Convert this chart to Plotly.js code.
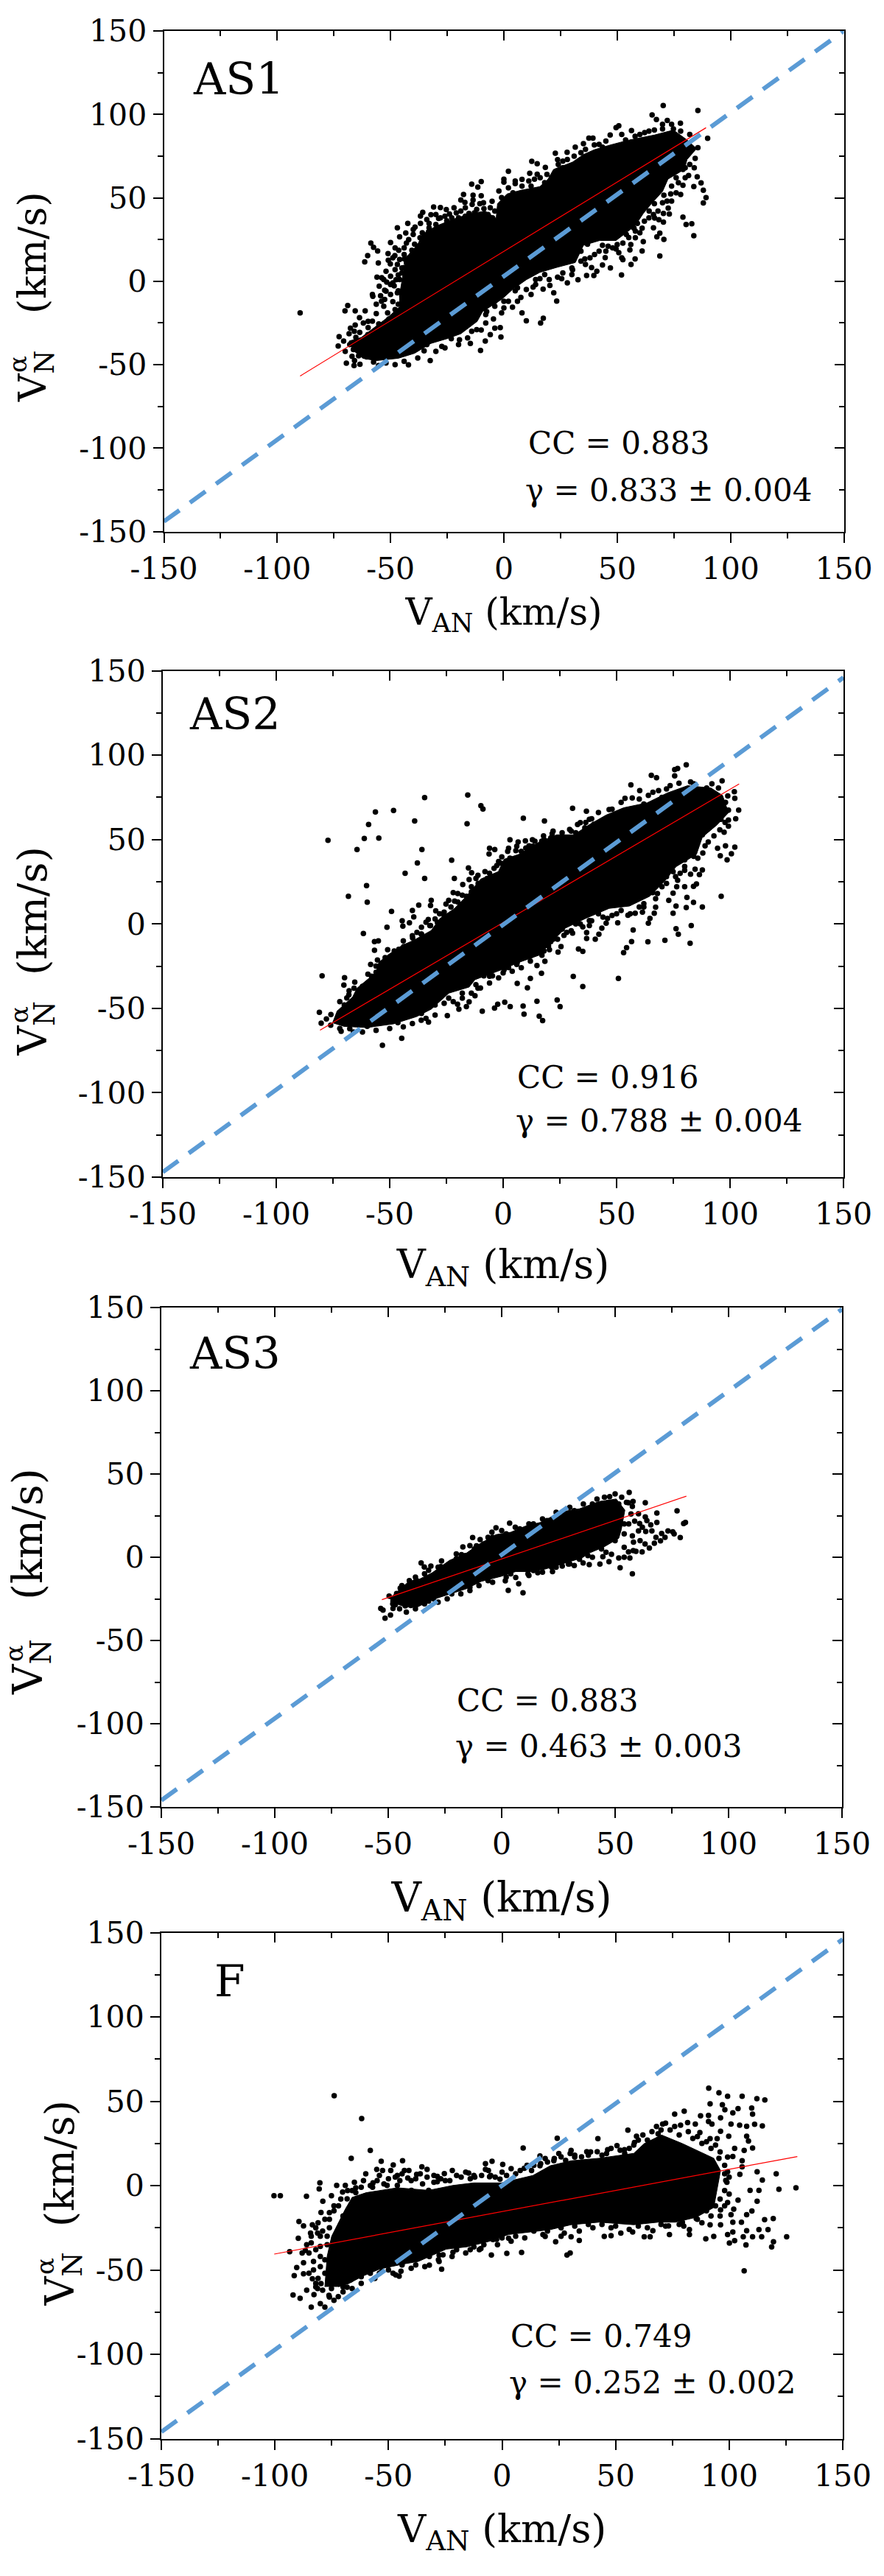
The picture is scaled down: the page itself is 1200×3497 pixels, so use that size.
<!DOCTYPE html>
<html><head><meta charset="utf-8">
<script src="https://cdn.plot.ly/plotly-3.0.1.min.js"></script>
<style>html,body{margin:0;padding:0;background:#fff}</style></head>
<body><div id="chart" style="width:1200px;height:3497px"></div>
<script>
// Values: [V_AN, V_N^alpha] in km/s
const tickVals=[-150,-100,-50,0,50,100,150];
const tickText=['-150','-100','-50','0','50','100','150'];
const panelNames=['AS1','AS2','AS3','F'];
const ccText=['CC = 0.883','CC = 0.916','CC = 0.883','CC = 0.749'];
const gammaText=['γ = 0.833 ± 0.004','γ = 0.788 ± 0.004','γ = 0.463 ± 0.003','γ = 0.252 ± 0.002'];
const fitAS1=[[-89.9,-56.8],[89.2,92]];
const fitAS2=[[-80.7,-62.9],[104,82.9]];
const fitAS3=[[-52.8,-25.5],[81.4,36.7]];
const fitF=[[-100.3,-40.6],[130,17.2]];
const unityAS1=[[-150,-144],[150,150]];
const unityAS2=[[-150,-147],[150,146]];
const unityAS3=[[-150,-146],[150,149]];
const unityF=[[-150,-146],[150,146]];
// Dense core of each cloud (points merge into solid black there)
const coreAS1=[[-66.5,-41.7],[-68.3,-35.9],[-62.9,-33.7],[-56.3,-27],[-50.8,-21.2],[-46,-15.3],[-46,-8],[-45,0],[-44,8],[-42,16],[-38,22],[-36,28],[-30,33],[-21.4,37.6],[-14.2,40.6],[-8.2,42],[-3.4,37.6],[-2.8,46.5],[1.4,52.3],[7.5,54.5],[15.9,56.7],[19.5,61.2],[21.9,67],[30.3,71.4],[35.1,75.9],[39.9,78.8],[47.1,81.7],[55.5,84.7],[66.4,87.6],[74.8,90.6],[80.8,84.7],[85,79.5],[80.8,72.9],[79.6,67],[72.4,61.2],[70,53.8],[65.1,46.5],[61.5,40.6],[57.9,33.2],[49.5,24.4],[42.3,24.4],[35.1,21.5],[31.5,11.2],[23.1,8.2],[15.9,5.3],[9.9,0.9],[3.8,-5],[-1,-10.9],[-9.4,-18.2],[-11.8,-24.1],[-19,-31.5],[-25,-34.4],[-32.2,-37.3],[-39.4,-43.2],[-46.6,-46.2],[-56.3,-47.6],[-62.3,-46.2]];
const coreAS2=[[-73.4,-51.9],[-66.3,-43.2],[-64.4,-38.1],[-56,-28.7],[-54.8,-22.8],[-50.9,-18.5],[-44.5,-12.7],[-39.4,-9.7],[-31.7,-3.9],[-27.8,3.3],[-21.4,9.2],[-16.2,16.4],[-9.8,26.6],[-2.1,31],[0.4,38.3],[6.9,41.2],[15.9,48.5],[23.6,52.8],[31.3,52.8],[37.7,58.6],[45.4,64.5],[53.1,68.8],[63.4,71.7],[72.4,77.6],[81.3,81.9],[91.6,80.5],[96.7,76.1],[99.3,65.9],[94.2,58.6],[87.8,51.4],[85.2,41.2],[76.2,33.9],[71.1,25.2],[64.6,16.4],[55.7,10.6],[46.7,9.2],[36.4,3.3],[27.4,-2.5],[21,-11.2],[15.9,-18.5],[6.9,-22.8],[-0.8,-27.2],[-12.4,-33],[-15,-37.4],[-23.9,-41],[-31.7,-50.5],[-38.1,-54.9],[-48.3,-59.2],[-59.9,-61.4],[-70.2,-60.7],[-75.3,-58.5]];
const coreAS3=[[-49.6,-24.8],[-46.9,-21.8],[-40.9,-14.5],[-36,-13],[-30.6,-9.3],[-23,-1.9],[-15.5,2.5],[-10.1,7.7],[-2.5,13.6],[4,15],[10.5,18.7],[17,20.9],[22.4,24.6],[27.8,27.6],[34.3,29.1],[43,33.5],[50.5,35],[54.3,28.3],[52.7,16.5],[51.6,11.4],[45.1,6.2],[38.6,2.5],[35.4,-0.4],[27.8,-3.4],[19.2,-7.1],[12.7,-8.6],[6.2,-8.6],[-0.3,-11.5],[-9,-14.5],[-15.5,-18.9],[-24.1,-22.6],[-30.6,-25.5],[-37.1,-29.9],[-42.5,-29.9],[-46.9,-27.7]];
const coreF=[[-78,-60],[-77,-42],[-75,-30],[-72,-22],[-69,-14],[-66,-7],[-59.8,-4.2],[-46.1,-1.3],[-32.3,-2.8],[-21.6,0.1],[-12.4,1.6],[-0.2,1.6],[13.6,6],[21.3,11.8],[30.4,14.7],[42.7,16.2],[58,19.1],[62.6,24.9],[70.2,30],[79.4,24.9],[93.2,16.2],[96.2,8.9],[94.7,-2.8],[93.2,-13],[85.5,-18.8],[76.3,-21.7],[68.7,-21.7],[58,-23.2],[42.7,-21.7],[30.4,-23.2],[21.3,-26.1],[12.1,-27.5],[2.9,-29],[-6.3,-33.3],[-15.5,-36.3],[-24.6,-37.7],[-36.9,-45],[-43,-46.4],[-53.7,-49.4],[-61.4,-53.7],[-67.5,-58.1],[-72,-60]];
// Individually visible points around each core
const ptsAS1=[[-89.9,-19],[70.3,105.3],[85.6,102.3],[65.4,99.7],[67.3,96.9],[72.1,96.4],[77.9,94.7],[89.9,85.6],[50.7,93.2],[49.5,92],[56.3,90.3],[46.9,87.6],[37.5,85.8],[39.3,85.8],[35.1,82.5],[31.5,80.3],[39.9,81.7],[43.5,80.3],[27.9,77.3],[22.7,76.7],[23.7,72.9],[12.3,71.9],[14.7,70.4],[18.3,68.2],[2,65.9],[11.4,64.7],[14.7,64.1],[13.5,61.2],[0,61.2],[0,59.4],[5,58.5],[-14.2,58.2],[-10,59.7],[-11.5,56.4],[-2.2,54.1],[2,56],[-17.8,52],[-13.6,51.6],[-10,51.2],[-19,48.7],[-17.2,47.2],[-13.6,48.7],[-5.2,47.9],[-1,50.1],[-10.6,46.5],[-8.8,43.5],[-31,44.5],[-28,44.2],[-25.4,42.9],[-35.8,41.3],[-36.8,39.1],[-32.2,39.8],[-19,42],[-15.4,40.6],[-24,40.3],[-28.8,37.6],[-42.4,34.7],[-33,34.7],[-25.2,36.2],[-36.8,34.7],[-39.2,32.5],[-47,32],[-43.3,28.9],[-33.3,29.5],[-26.7,31.8],[-34.6,26.6],[-46,26.6],[-35.8,24.4],[-58.7,22.9],[-50,23.2],[-43,22.9],[-57.5,20.3],[-55.7,18.1],[-39.4,22.2],[-46.4,18.5],[-40.6,18.5],[-51.1,16.6],[-48.1,15.3],[-60.1,15.3],[-35.8,15.6],[-43.9,13.4],[-61.4,11.6],[-55.4,10.9],[-51,12.6],[-50.1,10.4],[-41.8,11.2],[-44.1,8.2],[-39.4,6.8],[-40.6,4.6],[-46.6,3.8],[-56,2.4],[-53.9,2.1],[-51.7,-0.6],[-47.6,0.9],[-48.4,-2.8],[-43,-2.1],[-40,-1.3],[-46.6,-5.7],[-42.4,-7.2],[-52.6,-5.4],[-54.4,-8.7],[-57.8,-9.1],[-52.6,-10.9],[-49,-12.3],[-56.3,-13.8],[-41.2,-11.6],[-46.6,-13.8],[-68.9,-14.6],[-70.1,-17.8],[-65.6,-17.8],[-61.2,-17.8],[-56.3,-19.4],[-51.3,-19],[-63.7,-21.9],[-50.7,-22.6],[-59.9,-24.1],[-55.2,-25.6],[-65.6,-26.3],[-67.7,-28.1],[-59.9,-27.8],[-72.7,-33.2],[-68.3,-31.5],[-63.6,-30.7],[-70.7,-35.9],[-65.3,-33.7],[-73.1,-38.8],[-66.4,-41],[-64.1,-44.7],[-65.9,-47.6],[-69.5,-49.1],[-66.1,-50.6],[-63.5,-49.8],[-57.5,-48.4],[-60.5,-45.4],[-55.3,-50.6],[-42.1,-50.1],[-32.5,-47.6],[-35.2,-41.7],[-27.4,-39.1],[-10.3,-41.5],[-8.2,-35.9],[-14.8,-37.3],[-19.6,-35.1],[-23.2,-34.4],[-1.3,-33.4],[-4,-28.2],[-10,-29.3],[-14.2,-30],[-16.6,-24.8],[9.9,-23.7],[17.4,-22.2],[16.2,-25.1],[23.3,-11.9],[-1.6,-27.8],[-4.6,-22.6],[-7.6,-18.2],[-1,-19],[3.8,-15.6],[7.5,-9.7],[5,-5.7],[9.9,-5],[12.9,-3.5],[17.3,-4.7],[20.3,-2.5],[15.9,1.6],[23.7,2.4],[25.5,1.6],[32.7,0.9],[36.5,3.4],[39.7,3.4],[51.9,3.8],[30.3,6.8],[38.7,8.2],[43.5,9.7],[56.1,10],[68.8,15.1],[35.7,13.4],[44.7,14.1],[52.5,12.9],[57.9,13.4],[61,18.1],[55.6,18.8],[50.7,17.1],[49.5,19.3],[36.9,22.2],[43.5,21.5],[52.5,22.9],[61.5,23.7],[67.5,26.6],[70.6,25.1],[83.8,27.3],[68.8,28.8],[57.4,31.8],[61,31.8],[55.1,26.2],[53.1,30],[70.4,35.4],[66.5,37.9],[68.4,36.9],[80.4,34],[82.9,34.4],[79,38.4],[73,40.3],[70.4,40.6],[72.5,43.8],[64.1,42],[58.9,34.7],[88,46.9],[89.2,50.1],[88,54.5],[87,58.9],[83.8,56.7],[85.3,62.6],[79,57.5],[81.5,63.4],[73.6,52.3],[70.6,51.6],[66.4,46.5],[79,67],[84.4,73.6],[85.6,80],[74.8,91.3],[70,91.3],[62.1,89.1],[66.4,90.6],[53.7,84.7],[57.9,86.9],[-58,-8],[-55,-3],[-50,3],[-48,7],[-45,5],[-42,14],[-38,16],[-44,20],[-37,26],[-40,28],[-33,32],[-30,30],[-36,12],[-38,2],[-42,-4],[-45,-9],[-50,-8],[-48,-17],[-53,-15],[-58,-24],[-62,-25],[-60,-32],[-66,-30],[-68,-38],[-62,-37],[-70,-42],[-67,-45],[-62,-44],[-38,8],[-34,20],[-28,38],[-24,35],[-20,38],[-17,44],[-12,43],[-9,47],[-6,44],[-4,42],[-14,46],[-22,44],[-30,40],[-26,33],[5,60],[8,57],[11,60],[16,62],[19,64],[24,70],[28,73],[26,68],[34,77],[42,82],[45,84],[52,88],[60,88],[64,90],[70,94],[74,94],[78,90],[82,88],[82,70],[84,68],[80,62],[77,59],[76,53],[72,48],[68,42],[64,38],[60,29],[56,22],[48,20],[45,18],[40,16],[34,18],[36,10],[30,4],[26,5],[20,1],[14,-2],[12,-8],[6,-12],[2,-12],[0,-16],[-4,-15],[-8,-25],[-12,-29],[-16,-34],[-20,-38],[-26,-40],[-30,-42],[-38,-46],[-44,-48],[-48,-50],[-52,-49],[74,48],[78,52],[66,32],[58,26],[52,14],[47,8],[41,6],[28,-1],[22,-7],[8,-19],[-6,-32]];
const ptsAS2=[[80.7,94.3],[75.6,91.4],[76.9,92.1],[75.6,87.7],[65.3,88],[67.6,86.6],[96.5,84.8],[56.3,82.4],[60.2,79],[68.5,79],[77.5,83.4],[82.6,84.1],[73.6,81.9],[89.7,80.5],[94.9,80.5],[101.9,78.3],[53.7,74.4],[56.9,74.6],[64,76.1],[102.1,74.4],[99,75.8],[30.6,68.5],[36.7,66.8],[46.7,67.7],[39,62.3],[103.8,67.4],[99.3,67.4],[102.5,62.3],[99.3,61.5],[97.8,60.1],[36.4,60.1],[32.8,58.9],[29.3,56],[99.3,57.9],[95.5,55.7],[97.4,54.3],[92.9,52.1],[87.8,52.8],[90.4,48.5],[89,46.3],[98,46.3],[102.1,45.5],[94.5,44.8],[100.6,41.6],[95.7,40.4],[98.7,38],[85.8,39],[87.8,32],[84.6,32.4],[80,31.7],[86.5,29.2],[82.6,29.5],[74.9,31],[76.9,25.9],[85.2,23.7],[83.9,22.3],[76.5,22],[80,22],[96.1,16.4],[74.9,18.2],[81,15.7],[83.9,12.8],[87.8,10],[73,14],[76.2,10.6],[80.7,9.7],[74.9,6.3],[67.2,15],[65.9,18.6],[67.2,9.9],[66.6,6.3],[64.7,3.3],[64,0.4],[58.2,6.3],[55,5.1],[61.4,7],[76.2,-2.8],[82.9,-1],[77.2,-6.1],[71.3,-9.7],[82.4,-11.5],[63.8,-10.6],[56.6,-10.5],[57.3,-3.6],[54.4,-14.1],[53.1,-17],[50.5,0.7],[46,3.3],[45.4,0.4],[43.5,-2.5],[42.2,-6.1],[40.6,-9],[36.8,-8.6],[36.8,-5.1],[39,1.9],[35.1,-1.7],[30.6,-5.4],[26.8,-6.8],[33.2,-14.8],[35.1,-16.3],[25.5,-13.4],[24.2,-16.7],[20.4,-15.3],[21,-10.5],[17.1,-18.5],[18.4,-22.1],[14.9,-24.6],[10.1,-18.5],[4.3,-19.9],[6.2,-22.8],[2.4,-25.8],[0.4,-27.2],[16.9,-29.2],[12,-32.3],[6.2,-35.2],[10.7,-37.8],[30.9,-31.1],[35.1,-37.1],[50.8,-32.3],[-4.7,-30.8],[-8.5,-30.8],[-11.1,-38.1],[-12.4,-42.5],[-15,-46.1],[-20.1,-47.6],[-16.2,-49],[-19.5,-50.5],[-9.2,-51.7],[-2.4,-47.6],[0.7,-46.4],[-3.8,-49.8],[3.1,-49],[8.8,-48.7],[14.9,-45.8],[23.8,-45],[25.1,-49],[9.2,-53.4],[15.9,-54.6],[17.4,-57.3],[-24.6,-54.3],[-32.9,-58.1],[-36.1,-57],[-46.4,-58.5],[-53.5,-57.8],[-44.7,-67.7],[-53.2,-71.9],[-59.9,-60.7],[-71.4,-63.6],[-67.6,-62.1],[-80.2,-58.8],[-81,-52.4],[-77.9,-56.3],[-75.9,-53.7],[-79.8,-30.8],[-69.9,-31.9],[-70.2,-36.2],[-65.4,-34.5],[-65.7,-38.1],[-67.9,-39.6],[-68.9,-43.9],[-64.4,-44.7],[-59.6,-29.8],[-56,-28.7],[-58.4,-24],[-55.4,-21.4],[-56.7,-10.5],[-55,-10],[-56.7,-15.6],[-50.9,-15.3],[-48.3,-19.9],[-61.6,-5.7],[-51.2,-2],[-49.2,7.4],[-44.5,1.9],[-44.2,-1.3],[-41.3,0.7],[-40,8],[-39.4,4.1],[-37.2,11.1],[-32,10.9],[-31.7,14],[-25.2,11.8],[-29.7,7.7],[-33,2.6],[-32.3,-1],[-36.1,-6.1],[-43.8,-13.4],[-39.9,-8.3],[-59.9,12.9],[-60.2,22.7],[-68.2,16.4],[-34.6,26.9],[-43.2,30],[-21.5,26.9],[-37.8,36.1],[-22.7,37.8],[-35.8,44.1],[-64.4,44.1],[-77.2,49.5],[-61.2,50.6],[-54.8,50.8],[-59.3,58.9],[-56.3,66.3],[-48.3,67.2],[-39,61],[-34.6,74.8],[-15.6,76.4],[-15.9,59.4],[-9.8,70],[-8.9,68.1],[8.9,62.6],[18.2,61],[-6,44.8],[-3.7,44.1],[-6.2,41.5],[3,49.9],[6.6,48.5],[9.8,49.2],[12.9,49.9],[17.8,52.1],[21.6,53.5],[2.4,44.8],[5.6,43.4],[11.4,46.3],[-0.6,39.7],[-2.8,34.6],[4.9,34.9],[-15.3,33.2],[-13.9,30.3],[-11.1,28.8],[-15,26.3],[-17.8,23.4],[-22,18.6],[-16.2,16.4],[-21.4,13.5],[-70,-48],[-66,-48],[-62,-46],[-64,-41],[-60,-36],[-57,-33],[-54,-27],[-52,-24],[-48,-20],[-46,-15],[-42,-14],[-38,-5],[-36,-2],[-34,1],[-30,3],[-28,6],[-26,7],[-24,14],[-20,18],[-14,22],[-12,27],[-8,31],[-6,30],[-2,37],[2,43],[6,46],[10,45],[14,49],[18,50],[22,55],[26,54],[30,55],[34,60],[38,62],[42,66],[48,68],[52,72],[60,74],[66,78],[72,80],[84,83],[92,83],[98,72],[96,62],[90,56],[88,42],[84,44],[80,38],[78,30],[72,28],[70,22],[62,12],[60,10],[52,8],[48,5],[42,6],[38,-1],[32,0],[28,-5],[24,-9],[20,-13],[12,-22],[8,-26],[4,-28],[-2,-32],[-6,-35],[-10,-38],[-14,-41],[-18,-44],[-22,-46],[-26,-47],[-30,-54],[-34,-56],[-40,-59],[-44,-61],[-50,-62],[-56,-63],[-62,-64],[-66,-64],[-72,-62],[-76,-60]];
const ptsAS3=[[56.2,38.9],[52.9,36.1],[45.3,36.1],[47.6,36.4],[57.9,33.5],[63.3,32.7],[51.6,32],[55.9,32.7],[57.6,30.5],[68.4,26.6],[77.3,27.9],[63.3,24.2],[60.3,26.1],[58.6,21.7],[60.8,20.2],[68.4,20.9],[65.7,19.5],[81,20.9],[80.2,20.2],[75.4,15.3],[73.3,15.8],[78.7,11.8],[70.5,14.3],[70,9.9],[67.3,8.4],[63.5,15.5],[66.2,15.8],[60.3,15.8],[57.6,12.8],[58.1,9.1],[63.2,8],[65.1,5.5],[61.9,3.2],[59.2,3.5],[55.9,3.2],[56.5,-0.4],[52.2,-6.3],[57.6,-10],[51.6,-0.4],[48.4,1.8],[44.6,0.3],[47.3,-2.7],[43.3,-4.1],[38.6,-4.4],[35.9,-3.4],[34.3,-1.2],[29.4,-4.1],[26.7,-5.3],[24.6,-3.4],[22.4,-8.6],[15.9,-9.3],[11.6,-10],[6.2,-12.2],[1.6,-14.2],[7.5,-15.9],[2.9,-19.9],[9.4,-21.4],[3.5,20.5],[-2.5,17.7],[-4.3,15],[-12.8,11.8],[-17.1,6.2],[-17.7,1.5],[-9.5,10.6],[-11.1,6.9],[-26.5,-2.2],[-35.5,-3.4],[-31.2,-5.3],[-34.1,-5.9],[-32.2,-7.8],[-26.8,-5.6],[-40.7,-14],[-37.7,-13.7],[-44.7,-18.6],[-46.3,-21.8],[-49.6,-23.3],[-53.3,-30.7],[-52.3,-31.7],[-49,-34.7],[-51.4,-36.6],[-47.9,-30.7],[-46.9,-28.5],[-47.9,-26.3],[-43.6,-24],[-40.9,-27.7],[-37.1,-27],[-32.2,-26.3],[-44.7,-26.3],[-42.5,-29.2],[-48,-28],[-45,-31],[-42,-33],[-38,-31],[-34,-28],[-28,-27],[-24,-25],[-18,-22],[-14,-20],[-10,-17],[-4,-15],[2,-12],[12,-11],[18,-9],[24,-6],[32,-5],[40,0],[46,3],[54,6],[54,14],[56,20],[57,26],[55,33],[50,38],[42,35],[36,32],[30,30],[24,27],[18,23],[12,20],[6,18],[0,16],[-6,12],[-14,7],[-20,2],[-28,-6],[-34,-10],[-38,-12],[-44,-19],[58,4],[61,10],[62,18],[64,22],[68,12],[72,12],[76,14],[54,0]];
const ptsF=[[-73.9,53.3],[-61.8,39.7],[-58,20.8],[-66.4,16.2],[-100.4,-6],[-97.6,-6],[-86.1,-6.3],[-80.2,1.6],[-80.5,-2],[-72.8,0.1],[-69,0.1],[-70.2,-3.8],[-75.1,-6],[-78.9,-9.3],[-68.2,-7.9],[-64.4,-1.3],[-64.4,-4.2],[-79.7,-15.9],[-89.4,-21.3],[-83.5,-23.2],[-87.4,-23.9],[-84.3,-28.2],[-81.2,-28.2],[-89.7,-31.2],[-93.5,-39.2],[-86.6,-38.4],[-87.4,-45.7],[-90.4,-48.6],[-91.5,-53.4],[-87.4,-52.3],[-92,-64.8],[-82.8,-64.6],[-76.2,-65.1],[-72.1,-65.8],[-88.9,-66.8],[-81.2,-61],[-79.7,-58.1],[-75.1,-61],[-68.2,-60.3],[-83.5,-55.2],[-72.1,-56.6],[-66.7,-55.9],[-45.3,-53.7],[-44.5,-50.8],[-46.8,-53],[-52.9,-50.8],[-32,-47.2],[-26.6,-49.6],[-27.7,-45],[-21.6,-39.5],[-27.7,-41.3],[-4.7,-41.2],[2.1,-40.2],[8.6,-39.6],[28.6,-41.2],[30,-40],[-12.4,-36.3],[-9.3,-37.3],[-2.4,-31.9],[2.9,-31.2],[19,-30.1],[23.6,-33.3],[27.4,-28.2],[30.4,-30.4],[34,-32.5],[45,-30.1],[48,-29.7],[52.3,-28.2],[57.5,-27.5],[62.6,-30.4],[65.2,-30.4],[66.4,-26.8],[73.7,-29],[73.3,-23.9],[82.5,-29],[82.5,-26.1],[89.7,-31.6],[93.2,-30.1],[79.4,-21.7],[85.5,-19.5],[91.6,-23.2],[96.2,-23.2],[100.1,-34.1],[102.4,-32.6],[107.4,-35.2],[106.6,-50.5],[118.7,-36.3],[119.5,-33.3],[125.3,-30.4],[110.3,-30.4],[114.3,-30.4],[117.1,-26.1],[113.1,-26.1],[107.7,-26.8],[101.6,-27.5],[99.3,-29],[106.2,-30.4],[119.4,-19.5],[115.6,-20.2],[101.6,-21.7],[105.4,-21.7],[100.8,-17.3],[107.7,-17.3],[110,-15.1],[96.2,-14.4],[99.3,-10],[103.9,-8.6],[112.3,-9.3],[113.1,-2.8],[109.2,-2.8],[121.9,-2.2],[129.4,-1.3],[120.7,7],[114.6,3.3],[112.3,8.2],[104.7,6.7],[99.3,8.2],[98.5,3.1],[105.7,11.1],[105.7,14.7],[101.6,17.3],[99.3,16.9],[106.6,20.8],[110.3,22.3],[102.4,22],[95.5,16.2],[107.7,29.3],[108.5,26.4],[99.8,29.3],[94.7,27.8],[91.6,27.8],[96.2,32.2],[114.6,35.4],[111.2,36.3],[107.7,35.1],[104.6,35.8],[100.8,36.5],[96.2,40.2],[92.4,36.5],[90.9,38],[87.1,31.4],[85.1,36.5],[81.7,37.3],[78.6,35.8],[70.7,36.5],[76,42.4],[80.2,44.1],[87.4,41.4],[90.9,41.6],[101.6,43.1],[103.9,45.6],[110.3,42.4],[109.9,46],[112.2,51.5],[115.7,50.8],[105.7,52.9],[99.3,52.9],[95.5,55],[91,57.7],[91.6,48.5],[97,47.9],[98.1,45],[55.4,32.9],[59.2,29.3],[68.7,30.7],[42.2,27.8],[24.3,28.1],[9.3,22.3],[30.4,20.8],[50.6,23.7],[58.3,25.6],[46.5,21.3],[53.9,21.3],[41.9,20.1],[37.3,20.1],[32,16.9],[22.8,14.7],[16.7,17.6],[16.7,11.8],[9.8,10.3],[0.3,12.5],[-4.4,14.4],[-7.3,13],[-7.3,9.6],[-14.7,7.4],[-12.4,6],[-5.5,5.2],[-0.9,3.8],[-21.9,8.9],[-25.4,7.1],[-28.5,5.5],[-28.5,2.3],[-33,9.6],[-35.3,11.1],[-37.6,6.7],[-43,8.9],[-46.1,6],[-41.5,4.5],[-52.6,8.9],[-55.2,9.6],[-53.2,14.4],[-43.8,14.7],[-47.9,12.2],[-56.8,1.6],[-50.6,0.1],[-46.1,0.1],[-39.9,-2.8],[-32.3,-2.8],[-85,-40],[-83,-45],[-80,-42],[-85,-52],[-82,-58],[-78,-52],[-80,-48],[-84,-34],[-80,-30],[-76,-25],[-77,-35],[-78,-20],[-74,-15],[-72,-12],[-70,-18],[-66,-3],[-62,-1],[-58,0],[-55,3],[-50,4],[-45,3],[-40,3],[-35,1],[-30,2],[-25,3],[-18,5],[-12,5],[-5,6],[2,6],[8,9],[14,12],[20,14],[26,17],[32,18],[38,18],[46,19],[52,21],[58,24],[64,27],[70,33],[74,33],[78,30],[84,28],[88,25],[92,22],[96,20],[98,12],[100,5],[100,-5],[98,-12],[102,-14],[96,-18],[92,-18],[88,-22],[80,-24],[72,-24],[64,-25],[56,-26],[48,-25],[40,-25],[34,-27],[26,-30],[18,-29],[10,-31],[4,-33],[-2,-35],[-10,-38],[-16,-40],[-22,-42],[-28,-44],[-34,-48],[-40,-49],[-48,-52],[-56,-55],[-62,-58],[-70,-63],[-74,-68],[-80,-70],[-84,-72],[-78,-72],[-86,-62],[-83,-50],[-81,-55],[-79,-62],[-82,-38],[-80,-36],[-78,-44],[-79,-27],[-77,-30],[-81,-22],[-76,-16]];
// Fuzzy fringe where the points nearly merge
const fringeAS1=[[-54,-12],[-52,-6],[-50,-2],[-47,-7],[-44,-5],[-41,-9],[-39,-6],[-37,-9],[-53,1],[-49,-1],[-46,1],[-43,2],[-41,0],[-39,4],[-37,-1],[-52,6],[-47,10],[-45,8],[-43,11],[-38,11],[-36,9],[-49,14],[-46,13],[-44,16],[-40,15],[-37,19],[-48,20],[-42,25],[-38,21],[-35,23],[-40,31],[-36,29],[-33,27],[-30,34],[-34,37],[-26,39],[-23,38],[-21,41],[-17,39],[-13,41],[-7,40],[-2,39],[-5,38],[1,47],[4,53],[8,61],[12,57],[18,59],[21,62],[26,72],[31,75],[36,79],[30,8],[34,12],[38,14],[42,18],[46,21],[50,22],[54,28],[58,30],[62,36],[66,40],[70,47],[74,57],[76,62],[80,68],[-12,-20],[-8,-20],[-4,-12],[0,-12],[6,-4],[14,1],[18,4],[-18,-27],[-22,-29],[-28,-33],[-34,-38],[-40,-40]];
const fringeAS2=[[-72,-46],[-68,-42],[-62,-37],[-58,-31],[-56,-25],[-52,-20],[-48,-16],[-44,-10],[-40,-7],[-36,-6],[-32,-1],[-29,1],[-26,5],[-23,10],[-20,13],[-18,17],[-14,19],[-11,24],[-7,27],[-4,33],[-1,36],[3,39],[8,43],[13,46],[17,49],[21,51],[26,51],[32,54],[36,57],[40,59],[47,63],[55,67],[62,71],[70,75],[84,40],[80,34],[76,28],[72,24],[68,18],[62,10],[56,6],[50,6],[44,4],[38,2],[34,0],[30,-4],[26,-3],[22,-9],[18,-16],[12,-19],[6,-24],[0,-29],[-6,-31],[-12,-36],[-18,-41],[-24,-44],[-30,-48],[-36,-53]];
const fringeAS3=[[-44,-17],[-38,-15],[-32,-13],[-28,-9],[-24,-6],[-20,-1],[-16,1],[-12,5],[-8,8],[-4,12],[2,14],[8,17],[14,20],[20,22],[26,26],[32,28],[40,32],[47,33],[50,29],[52,24],[54,20],[50,10],[44,5],[38,1],[30,-4],[22,-6],[14,-8],[4,-10],[-6,-14],[-14,-18],[-22,-22],[-30,-25],[-40,-29]];
const fringeF=[[-68,-3],[-65,2],[-61,3],[-60,7],[-57,-1],[-54,6],[-52,1],[-49,9],[-47,5],[-44,7],[-41,9],[-38,4],[-36,7],[-33,5],[-30,6],[-27,4],[-23,3],[-20,6],[-16,8],[-14,4],[-9,6],[-6,9],[-3,5],[0,8],[4,10],[6,7],[11,12],[13,9],[17,13],[19,16],[23,16],[25,19],[28,15],[30,19],[35,17],[39,20],[44,18],[48,22],[54,19],[56,22],[60,27],[62,30],[66,32],[68,35],[72,37],[76,35],[82,32],[86,29],[90,26],[94,24],[-82,-60],[-76,-66],[-70,-60],[-66,-61],[-62,-54],[-58,-52],[-54,-52],[-50,-50],[-44,-47],[-38,-47],[-32,-42],[-26,-41],[-20,-38],[-14,-38],[-8,-35],[-4,-32],[0,-31],[6,-30],[14,-27],[20,-27],[26,-25],[32,-24],[38,-23],[44,-23],[50,-24],[60,-24],[70,-23],[78,-23],[86,-20],[90,-15],[94,-12],[96,-8],[98,-3],[99,2],[98,7],[-88,-40],[-86,-35],[-84,-30],[-82,-25],[-76,-20],[-74,-12],[-71,-8]];

const W=1200,H=3497,FONT='"DejaVu Serif",serif',NB='\u00a0';
const px=v=>v/W, py=v=>1-v/H;
const frames=[{l:222.5,r:1145.5,t:42,b:721.5},{l:221,r:1145,t:910.5,b:1598},{l:219,r:1143,t:1775,b:2453},{l:219,r:1144,t:2623.5,b:3310.5}];
const cores=[coreAS1,coreAS2,coreAS3,coreF], pts=[ptsAS1,ptsAS2,ptsAS3,ptsF], fringes=[fringeAS1,fringeAS2,fringeAS3,fringeF];
const fits=[fitAS1,fitAS2,fitAS3,fitF], unities=[unityAS1,unityAS2,unityAS3,unityF];
const nameX=[260,255,255,289], nameY=[107,969,1837,2689];
const ccX=[715,700,618,691], ccY=[602,1463,2308,3171];
const gX=[711,698,616,689], gY=[665,1522,2370,3234];
const xtSize=[50,54,56,53], ytSize=[52,55,56,54];
const xStand=[18,26,30,30];
const ytGap=[3,2,3,2], ytX=[48,48,41,84], ytBottom=[547,1435,2302,3132];
const alphaX=[24,26,19,61], alphaY=[495,1378,2245,3077];

const traces=[],layout={width:W,height:H,margin:{l:0,r:0,t:0,b:0,pad:0},showlegend:false,paper_bgcolor:'#fff',plot_bgcolor:'#fff',font:{family:FONT,color:'#000'},annotations:[]};
const line={showline:true,linecolor:'#000',linewidth:2,zeroline:false,showgrid:false,range:[-150,150],fixedrange:true};
const minor=t=>({tickmode:'linear',tick0:-150,dtick:25,ticks:t,ticklen:7,tickwidth:2,tickcolor:'#000',showgrid:false});
frames.forEach((f,i)=>{
  const n=i+1, m=i+5, xa=n===1?'x':'x'+n, ya=n===1?'y':'y'+n, xb='x'+m, yb='y'+m;
  const xd=[px(f.l),px(f.r)], yd=[py(f.b),py(f.t)];
  const ck=a=>a.map(p=>p[0]), cv=a=>a.map(p=>p[1]);
  const all=pts[i].concat(fringes[i]);
  traces.push({x:ck(cores[i]),y:cv(cores[i]),xaxis:xa,yaxis:ya,mode:'lines',fill:'toself',fillcolor:'#000',line:{color:'#000',width:1},hoverinfo:'skip'});
  traces.push({x:ck(all),y:cv(all),xaxis:xa,yaxis:ya,mode:'markers',marker:{color:'#000',size:7.5,line:{width:0}}});
  traces.push({x:ck(fits[i]),y:cv(fits[i]),xaxis:xa,yaxis:ya,mode:'lines',line:{color:'#ff0000',width:1.2}});
  traces.push({x:ck(unities[i]),y:cv(unities[i]),xaxis:xb,yaxis:yb,mode:'lines',line:{color:'#5B9BD5',width:6,dash:'26px,17.6px'}});
  const tkOut={tickmode:'array',tickvals:tickVals,ticktext:tickText,ticks:'outside',ticklen:13,tickwidth:2,tickcolor:'#000',tickfont:{family:FONT,size:41,color:'#000'},minor:minor('outside')};
  layout[xa.replace('x','xaxis')]=Object.assign({},line,tkOut,{domain:xd,anchor:ya,title:{text:'V<sub>AN</sub> (km/s)',font:{family:FONT,size:xtSize[i]},standoff:xStand[i]}});
  layout[ya.replace('y','yaxis')]=Object.assign({},line,tkOut,{domain:yd,anchor:xa});
  const tkIn={tickmode:'array',tickvals:tickVals,ticks:'inside',ticklen:13,tickwidth:2,tickcolor:'#000',showticklabels:false,minor:minor('inside')};
  layout['xaxis'+m]=Object.assign({},line,tkIn,{domain:xd,overlaying:xa,side:'top',anchor:ya});
  layout['yaxis'+m]=Object.assign({},line,tkIn,{domain:yd,overlaying:ya,side:'right',anchor:xa});
  const note=(t,x,y,s,extra)=>layout.annotations.push(Object.assign({text:t,xref:'paper',yref:'paper',x:px(x),y:py(y),xanchor:'left',yanchor:'middle',showarrow:false,font:{family:FONT,size:s,color:'#000'}},extra||{}));
  note(panelNames[i],nameX[i],nameY[i],60);
  note(ccText[i],ccX[i],ccY[i],42);
  note(gammaText[i],gX[i],gY[i],42);
  note('V<sub>N</sub>'+NB.repeat(ytGap[i])+'(km/s)',ytX[i],ytBottom[i],ytSize[i],{textangle:-90,xanchor:'center',yanchor:'bottom',borderpad:0});
  note('α',alphaX[i],alphaY[i],34,{textangle:-90,xanchor:'center'});
});
Plotly.newPlot('chart',traces,layout,{displayModeBar:false,staticPlot:true});
</script></body></html>
